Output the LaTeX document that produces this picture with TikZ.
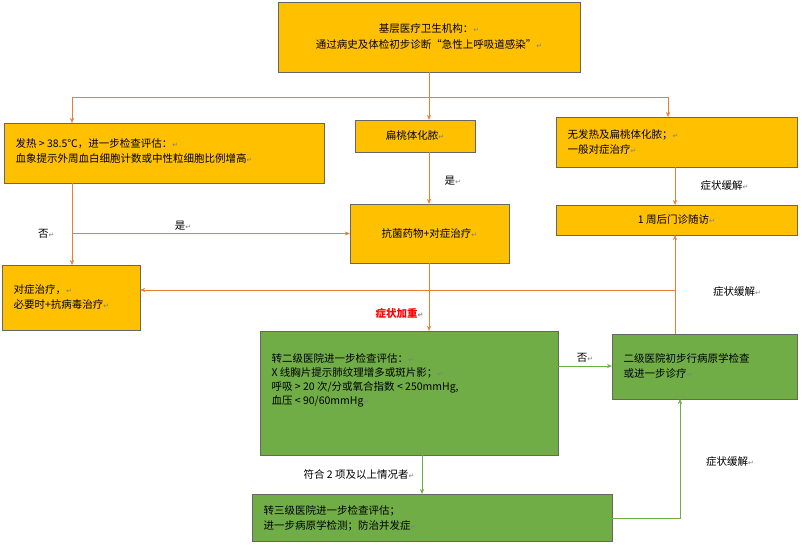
\documentclass[tikz,border=0pt]{standalone}
\usepackage{fontspec}
\setmainfont{Noto Sans CJK SC}
\newfontfamily\symf{DejaVu Sans}
\usetikzlibrary{arrows.meta}
\definecolor{org}{HTML}{FFC000}
\definecolor{grn}{HTML}{70AD47}
\definecolor{ln}{HTML}{ED7D31}
\definecolor{gl}{HTML}{70AD47}
\newcommand{\rt}{{\symf\color{gray}\scriptsize ↵}}
\tikzset{x=1pt,y=-1pt,
 ob/.style={draw=gray!80!black,fill=org,inner sep=0pt},
 gb/.style={draw=gray!80!black,fill=grn,inner sep=0pt},
 oa/.style={draw=ln,-{Stealth[length=5pt,width=4pt]}},
 ga/.style={draw=gl,-{Stealth[length=5pt,width=4pt]}},
 lb/.style={font=\fontsize{10.5}{13}\selectfont}}
\newcommand{\bx}[6]{\node[#1,minimum width=#4-#2,minimum height=#5-#3] (#6) at ({(#2+#4)/2},{(#3+#5)/2}) {};}
\begin{document}
\begin{tikzpicture}
\useasboundingbox (0,0) rectangle (802,544);
\bx{ob}{278}{2}{580}{72}{top}
\node[lb,align=center] at (top) {基层医疗卫生机构：\rt\\[3pt]通过病史及体检初步诊断“急性上呼吸道感染”\rt};
\bx{ob}{4}{123}{324}{183}{fever}
\node[lb,align=left,anchor=west] at (12,151) {发热 > 38.5℃，进一步检查评估：\rt\\[2pt]血象提示外周血白细胞计数或中性粒细胞比例增高\rt};
\bx{ob}{355}{120}{475}{152}{tons}
\node[lb] at (tons) {扁桃体化脓\rt};
\bx{ob}{556}{117}{797}{167}{nof}
\node[lb,align=left,anchor=west] at (564,142) {无发热及扁桃体化脓；\rt\\[2pt]一般对症治疗\rt};
\bx{ob}{350}{204}{509}{263}{anti}
\node[lb] at (anti) {抗菌药物+对症治疗\rt};
\bx{ob}{556}{205}{797}{235}{week}
\node[lb] at (week) {1 周后门诊随访\rt};
\bx{ob}{2}{265}{140}{330}{sym}
\node[lb,align=left,anchor=west] at (10,297) {对症治疗，\rt\\[2pt]必要时+抗病毒治疗\rt};
\bx{gb}{260}{331}{558}{455}{sec}
\node[lb,align=left,anchor=north west] at (268,350) {转二级医院进一步检查评估：\rt\\[1pt]X 线胸片提示肺纹理增多或斑片影；\rt\\[1pt]呼吸 > 20 次/分或氧合指数 < 250mmHg,\\[1pt]血压 < 90/60mmHg\rt};
\bx{gb}{612}{334}{797}{399}{sec2}
\node[lb,align=left,anchor=west] at (620,366) {二级医院初步行病原学检查\\[2pt]或进一步诊疗\rt};
\bx{gb}{252}{494}{612}{541}{thr}
\node[lb,align=left,anchor=west] at (260,518) {转三级医院进一步检查评估；\\[2pt]进一步病原学检测；防治并发症\rt};
% top split
\coordinate (s) at (429,97);
\draw[ln] (top.south -| s) -- (s);
\draw[oa] (s) -| (72,123);
\draw[oa] (s) -- (tons.north -| s);
\draw[oa] (s) -| (668,117);
\draw[oa] (tons.south -| s) -- (anti.north -| s) node[lb,pos=.55,right=12pt] {是\rt};
\draw[oa] (72,183) |- (anti.west) node[lb,pos=.7,above] {是\rt};
\draw[oa] (72,183) -- (72,265) node[lb,pos=.62,left=14pt] {否\rt};
\draw[oa] (675,167) -- (675,205) node[lb,midway,right=22pt] {症状缓解\rt};
\draw[oa] (675,334) -- (675,235);
\draw[oa] (675,290) -- (sym.east |- 0,290);
\node[lb] at (737,292) {症状缓解\rt};
\draw[oa] (anti.south -| s) -- (sec.north -| s) node[pos=.75,left=2pt,font=\fontsize{10.5}{13}\bfseries\selectfont,text=red] {症状加重\rt};
\draw[ga] (558,366) -- (612,366) node[lb,midway,above] {否\rt};
\draw[ga] (422,455) -- (422,494) node[lb,midway,left=4pt] {符合 2 项及以上情况者\rt};
\draw[ga] (612,518) -| (680,399);
\node[lb] at (730,462) {症状缓解\rt};
\end{tikzpicture}
\end{document}
